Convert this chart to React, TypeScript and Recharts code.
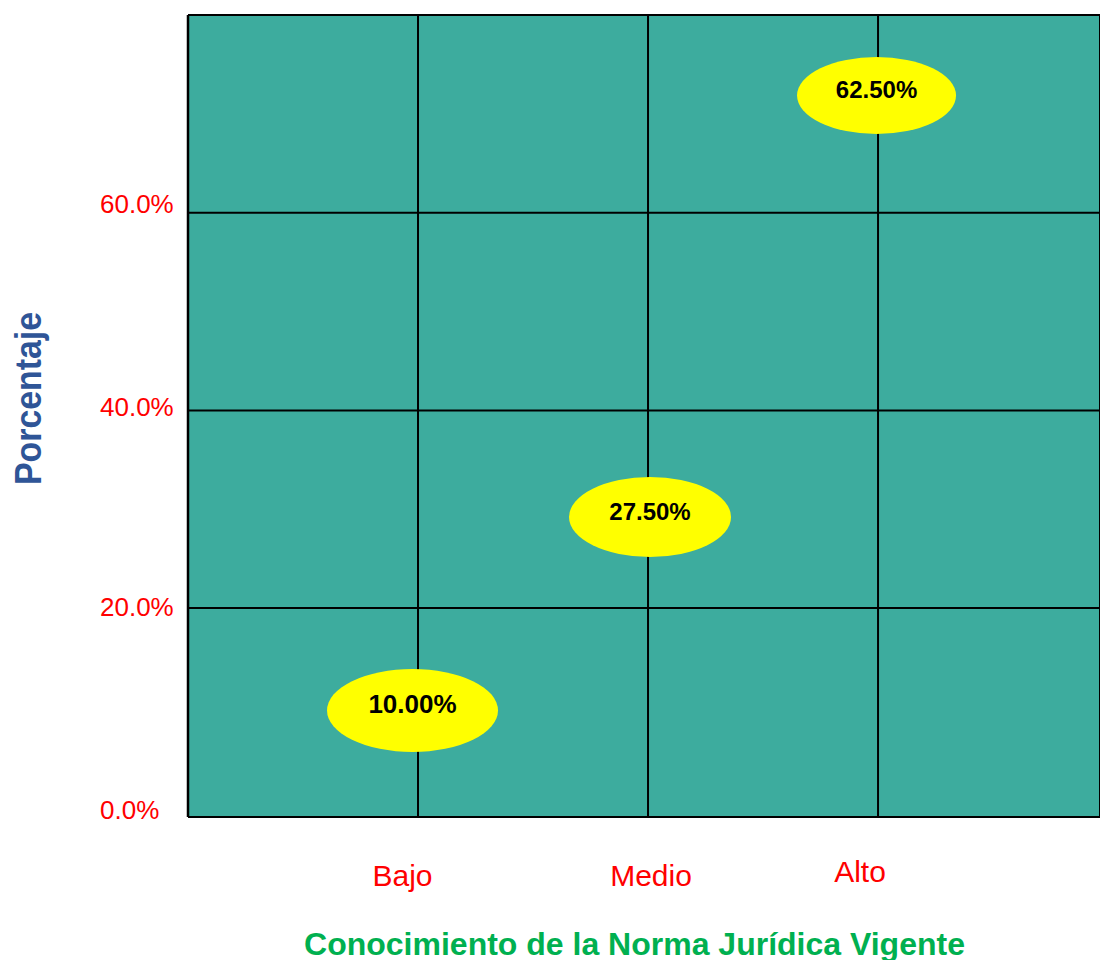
import React from "react"
import { ScatterChart, Scatter, XAxis, YAxis, CartesianGrid } from "recharts"

// Conocimiento de la Norma Jurídica Vigente
const categories = ["Bajo", "Medio", "Alto"]
const percentages = [10, 27.5, 62.5]
const percentLabels = ["10.00%", "27.50%", "62.50%"]
const yTicks = [0, 20, 40, 60, 80]
const yTickLabels = ["0.0%", "20.0%", "40.0%", "60.0%", ""]
const yGridValues = [20, 40, 60, 80]

const FONT = "'Liberation Sans', Arial, sans-serif"
const TEAL = "#3DAC9E"

// bubble placement relative to the point (px), as in the original sheet
const bubbleStyle = [
  { dx: -5.5, dy: 3.5, rx: 85.5, ry: 41.5, font: 26 },
  { dx: 2, dy: -17, rx: 81, ry: 40, font: 24 },
  { dx: -1.5, dy: -92.5, rx: 79.5, ry: 38.5, font: 24 },
]
const xTickNudge = [
  { dx: -15.5, dy: 69 },
  { dx: 3, dy: 69 },
  { dx: -18, dy: 65 },
]
const yTickNudge: Record<number, number> = { 0: 13, 20: 7.5, 40: 6, 60: 0, 80: 0 }

const data = categories.map((name, i) => ({ x: i + 1, y: percentages[i], name }))

function Bubble(props: any) {
  const { cx, cy, index } = props
  const s = bubbleStyle[index]
  const x = cx + s.dx
  const y = cy + s.dy
  return (
    <g>
      <ellipse cx={x} cy={y} rx={s.rx} ry={s.ry} fill="#FFFF00" />
      <text x={x} y={y + 3} textAnchor="middle" fontFamily={FONT} fontWeight="bold" fontSize={s.font} fill="#000">
        {percentLabels[index]}
      </text>
    </g>
  )
}

function XTick(props: any) {
  const { x, y, payload } = props
  const i = payload.value - 1
  const n = xTickNudge[i]
  if (!n) return null
  return (
    <text x={x + n.dx} y={y + n.dy} textAnchor="middle" fontFamily={FONT} fontSize={30} fill="#FF0000">
      {categories[i]}
    </text>
  )
}

function YTick(props: any) {
  const { y, payload } = props
  const i = yTicks.indexOf(payload.value)
  return (
    <text x={100} y={y + (yTickNudge[payload.value] ?? 0)} textAnchor="start" fontFamily={FONT} fontSize={26} fill="#FF0000">
      {yTickLabels[i]}
    </text>
  )
}

export default function App() {
  return (
    <div style={{ position: "fixed", top: 0, left: 0, width: 1100, height: 960, background: "#fff" }}>
      <ScatterChart width={1100} height={960} margin={{ top: 15, right: 0, bottom: 0, left: 0 }}>
        <CartesianGrid
          fill={TEAL}
          fillOpacity={1}
          stroke="#000"
          strokeWidth={2}
          horizontalValues={yGridValues}
        />
        <XAxis
          type="number"
          dataKey="x"
          domain={[0, 3.965]}
          ticks={[1, 2, 3]}
          allowDataOverflow
          height={143}
          tickLine={false}
          tickSize={0}
          tickMargin={0}
          axisLine={{ stroke: "#000", strokeWidth: 2 }}
          tick={<XTick />}
          label={{
            content: () => (
              <text x={634.5} y={955} textAnchor="middle" fontFamily={FONT} fontWeight="bold" fontSize={32} fill="#00B050">
                Conocimiento de la Norma Jurídica Vigente
              </text>
            ),
          }}
        />
        <YAxis
          type="number"
          dataKey="y"
          domain={[-1.13, 80]}
          ticks={yTicks}
          allowDataOverflow
          width={188}
          tickLine={false}
          tickSize={0}
          tickMargin={0}
          axisLine={{ stroke: "#000", strokeWidth: 2.5 }}
          tick={<YTick />}
          label={{
            content: () => (
              <text
                x={41}
                y={398.5}
                transform="rotate(-90 41 398.5)"
                textAnchor="middle"
                fontFamily={FONT}
                fontWeight="bold"
                fontSize={37}
                textLength={173}
                lengthAdjust="spacingAndGlyphs"
                fill="#2F5597"
              >
                Porcentaje
              </text>
            ),
          }}
        />
        <Scatter data={data} shape={<Bubble />} isAnimationActive={false} />
      </ScatterChart>
    </div>
  )
}
